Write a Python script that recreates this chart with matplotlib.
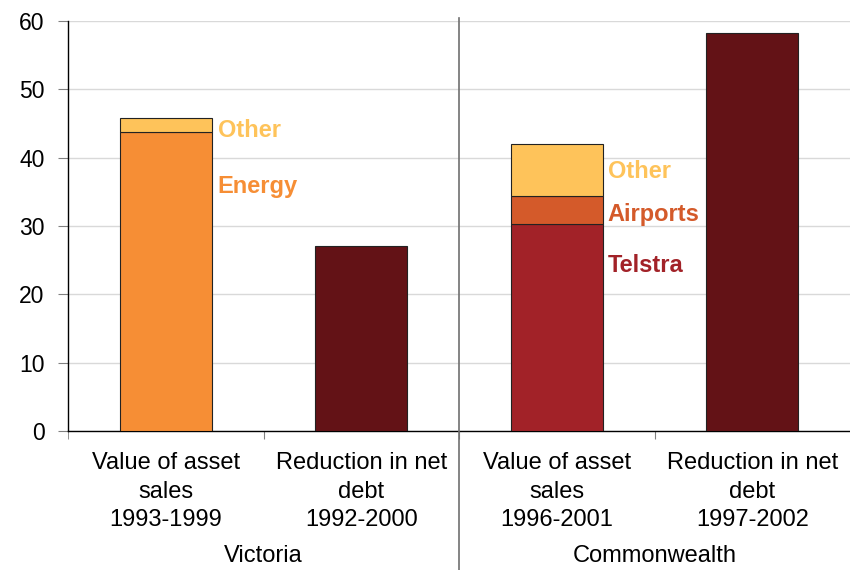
import matplotlib
matplotlib.use('Agg')
import matplotlib.pyplot as plt
from matplotlib.lines import Line2D

plt.rcParams.update({'font.family': ['Liberation Sans', 'DejaVu Sans'], 'font.size': 17})

# $ billion, stacked components per bar
categories = ['Value of asset\nsales\n1993-1999', 'Reduction in net\ndebt\n1992-2000',
              'Value of asset\nsales\n1996-2001', 'Reduction in net\ndebt\n1997-2002']
groups = ['Victoria', 'Commonwealth']

vic_energy = 43.7
vic_other = 2.1
vic_debt = 27.0
cw_telstra = 30.3
cw_airports = 4.1
cw_other = 7.6
cw_debt = 58.2

c_energy = '#F68E35'
c_other = '#FEC35A'
c_airports = '#D45A2A'
c_telstra = '#A22228'
c_debt = '#631216'

fig = plt.figure(figsize=(8.5, 5.7), dpi=100)
ax = fig.add_axes([0.080, 0.244, 0.920, 0.719])

w = 0.47
ek = dict(edgecolor='#222222', linewidth=0.8, width=w, zorder=3)
ax.bar(0, vic_energy, color=c_energy, **ek)
ax.bar(0, vic_other, bottom=vic_energy, color=c_other, **ek)
ax.bar(1, vic_debt, color=c_debt, **ek)
ax.bar(2, cw_telstra, color=c_telstra, **ek)
ax.bar(2, cw_airports, bottom=cw_telstra, color=c_airports, **ek)
ax.bar(2, cw_other, bottom=cw_telstra + cw_airports, color=c_other, **ek)
ax.bar(3, cw_debt, color=c_debt, **ek)

# segment labels beside the stacked bars
lk = dict(fontsize=17, fontweight='bold', ha='left', va='baseline')
ax.text(0.265, 43.0, 'Other', color=c_other, **lk)
ax.text(0.265, 34.8, 'Energy', color=c_energy, **lk)
ax.text(2.26, 37.0, 'Other', color=c_other, **lk)
ax.text(2.26, 30.8, 'Airports', color=c_airports, **lk)
ax.text(2.26, 23.3, 'Telstra', color=c_telstra, **lk)

ax.set_xlim(-0.5, 3.5)
ax.set_ylim(0, 60)
ax.set_yticks(range(0, 61, 10))
ax.yaxis.grid(True, color='#D9D9D9', linewidth=1, zorder=0)
ax.set_axisbelow(True)

for s in ['top', 'right']:
    ax.spines[s].set_visible(False)
ax.spines['left'].set_linewidth(1)
ax.spines['bottom'].set_linewidth(1)

ax.tick_params(axis='y', length=7, color='#808080', pad=10, labelsize=16.5)
ax.set_xticks([0.5, 1.5, 2.5])
ax.set_xticklabels([])
ax.tick_params(axis='x', length=6, color='#808080')
ax.set_xticks([-0.5], minor=True)
ax.tick_params(axis='x', which='minor', length=6, color='#808080')

for i, lab in enumerate(categories):
    ax.text(i, -3.05, lab, ha='center', va='top', fontsize=17, linespacing=1.4,
            clip_on=False)

ax.text(0.5, -18.35, groups[0], ha='center', va='center', fontsize=17, clip_on=False)
ax.text(2.5, -18.35, groups[1], ha='center', va='center', fontsize=17, clip_on=False)

# divider between the two governments
x_div = ax.transData.transform((1.5, 0))[0] / fig.bbox.width
fig.add_artist(Line2D([x_div, x_div], [0.0, 0.968], color='#707070', linewidth=1.2,
                      transform=fig.transFigure))

fig.savefig('out.png', dpi=100)
